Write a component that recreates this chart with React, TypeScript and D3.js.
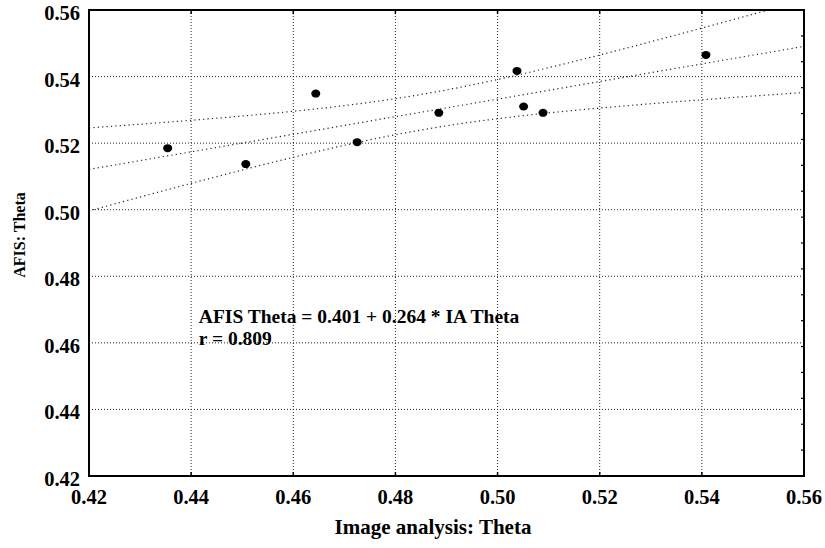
import React from 'react'
import * as d3 from 'd3'

// Image analysis theta (x) vs AFIS theta (y)
const iaTheta = [0.4354, 0.4507, 0.4644, 0.4725, 0.4885, 0.5038, 0.5051, 0.5089, 0.5408]
const afisTheta = [0.5185, 0.5137, 0.5349, 0.5203, 0.5291, 0.5417, 0.5310, 0.5291, 0.5465]
const xTicks = [0.42, 0.44, 0.46, 0.48, 0.50, 0.52, 0.54, 0.56]
const yTicks = [0.42, 0.44, 0.46, 0.48, 0.50, 0.52, 0.54, 0.56]
const equationLines = ['AFIS Theta = 0.401 + 0.264 * IA Theta', 'r = 0.809']
const tCrit = 2.365 // t(0.975, df = 7)

const W = 825
const H = 548
const margin = { top: 10, right: 21, bottom: 72, left: 89 }
const font = 'Liberation Serif, Times New Roman, serif'

const App = () => {
  const iw = W - margin.left - margin.right
  const ih = H - margin.top - margin.bottom
  const x = d3.scaleLinear().domain([0.42, 0.56]).range([0, iw])
  const y = d3.scaleLinear().domain([0.42, 0.56]).range([ih, 0])

  // least squares fit + 95% confidence band of the mean
  const n = iaTheta.length
  const mx = d3.mean(iaTheta)
  const my = d3.mean(afisTheta)
  const sxx = d3.sum(iaTheta, (v) => (v - mx) ** 2)
  const sxy = d3.sum(iaTheta, (v, i) => (v - mx) * (afisTheta[i] - my))
  const slope = sxy / sxx
  const icpt = my - slope * mx
  const sse = d3.sum(iaTheta, (v, i) => (afisTheta[i] - (icpt + slope * v)) ** 2)
  const s = Math.sqrt(sse / (n - 2))
  const xs = d3.range(0, 101).map((i) => 0.42 + (i / 100) * 0.14)
  const fit = (v) => icpt + slope * v
  const half = (v) => tCrit * s * Math.sqrt(1 / n + (v - mx) ** 2 / sxx)

  const line = d3.line().x((d) => x(d[0])).y((d) => y(d[1]))
  const mid = line(xs.map((v) => [v, fit(v)]))
  const upper = line(xs.map((v) => [v, fit(v) + half(v)]))
  const lower = line(xs.map((v) => [v, fit(v) - half(v)]))

  const minor = d3.range(1, 18).map((i) => (ih * i) / 18)

  return (
    <svg width={W} height={H} style={{ position: 'absolute', left: 0, top: 0, background: '#fff' }}>
      <defs>
        <clipPath id="plotclip">
          <rect x={0} y={0} width={iw} height={ih} />
        </clipPath>
      </defs>
      <g transform={`translate(${margin.left},${margin.top})`}>
        {/* grid */}
        {xTicks.slice(1, -1).map((t) => (
          <line key={'gx' + t} x1={x(t)} x2={x(t)} y1={0} y2={ih} stroke="#222" strokeWidth={1} strokeDasharray="1 2" />
        ))}
        {yTicks.slice(1, -1).map((t) => (
          <line key={'gy' + t} x1={0} x2={iw} y1={y(t)} y2={y(t)} stroke="#222" strokeWidth={1} strokeDasharray="1 2" />
        ))}

        {/* regression + bands */}
        <g clipPath="url(#plotclip)" fill="none" stroke="#222" strokeWidth={1.2} strokeDasharray="1.2 3.2">
          <path d={upper} />
          <path d={mid} />
          <path d={lower} />
        </g>

        {/* points */}
        {iaTheta.map((v, i) => (
          <ellipse key={i} cx={x(v)} cy={y(afisTheta[i])} rx={4.5} ry={4} fill="#000" />
        ))}

        {/* ticks */}
        {xTicks.slice(1, -1).map((t) => (
          <g key={'tx' + t}>
            <line x1={x(t)} x2={x(t)} y1={0} y2={4} stroke="#000" strokeWidth={1.5} />
            <line x1={x(t)} x2={x(t)} y1={ih} y2={ih - 4} stroke="#000" strokeWidth={1.5} />
          </g>
        ))}
        {minor.map((m) => (
          <line key={'mt' + m} x1={iw} x2={iw - 3} y1={m} y2={m} stroke="#000" strokeWidth={1.2} />
        ))}

        {/* frame */}
        <rect x={0} y={0} width={iw} height={ih} fill="none" stroke="#000" strokeWidth={2} />

        {/* tick labels */}
        {xTicks.map((t) => (
          <text key={'lx' + t} x={x(t)} y={ih + 28} textAnchor="middle" fontFamily={font} fontWeight="bold" fontSize={20.5}>
            {d3.format('.2f')(t)}
          </text>
        ))}
        {yTicks.map((t) => (
          <text key={'ly' + t} x={-9} y={y(t) + 10} textAnchor="end" fontFamily={font} fontWeight="bold" fontSize={20.5}>
            {d3.format('.2f')(t)}
          </text>
        ))}

        {/* equation */}
        {equationLines.map((s, i) => (
          <text key={s} x={x(0.4415)} y={y(0.4660) + i * 22} fontFamily={font} fontWeight="bold" fontSize={19.5}>
            {s}
          </text>
        ))}
      </g>

      {/* axis titles */}
      <text x={433} y={534} textAnchor="middle" fontFamily={font} fontWeight="bold" fontSize={21}>
        Image analysis: Theta
      </text>
      <text transform={`translate(25,235) rotate(-90)`} textAnchor="middle" fontFamily={font} fontWeight="bold" fontSize={16}>
        AFIS: Theta
      </text>
    </svg>
  )
}

export default App
